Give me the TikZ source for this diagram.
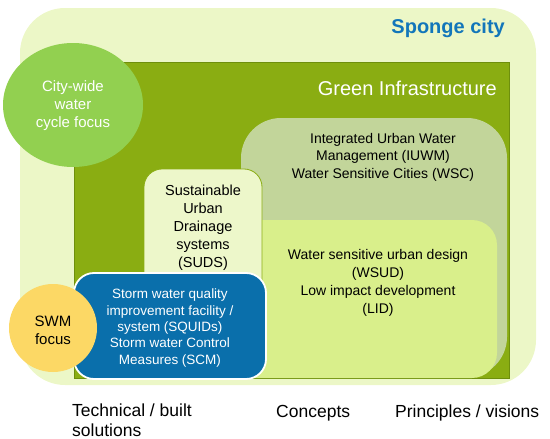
\documentclass[tikz,border=0pt]{standalone}
\usepackage{fontspec}
\setmainfont{Liberation Sans}
\definecolor{spongebg}{HTML}{ECF7C7}
\definecolor{gireen}{HTML}{8AAD12}
\definecolor{giborder}{HTML}{6E8F0C}
\definecolor{citycol}{HTML}{92D050}
\definecolor{iuwmcol}{HTML}{C2D59A}
\definecolor{wsudcol}{HTML}{D9EF8B}
\definecolor{sudscol}{HTML}{EDF7CA}
\definecolor{bluecol}{HTML}{0A6FAB}
\definecolor{swmcol}{HTML}{FCD865}
\definecolor{spongetxt}{HTML}{1276BA}
\tikzset{
  lbl/.style={align=center, inner sep=0pt, font=\fontsize{14}{17.5}\selectfont},
  botlbl/.style={inner sep=0pt, font=\fontsize{17.5}{20}\selectfont, anchor=base west, align=left},
}
\begin{document}
\begin{tikzpicture}[x=1pt,y=-1pt]
\useasboundingbox (0,0) rectangle (550,439);
% sponge city background
\fill[spongebg, rounded corners=45pt] (20,8) rectangle (536,385);
\node[anchor=base east, inner sep=0pt, text=spongetxt, font=\fontsize{20}{24}\selectfont\bfseries] (sponge) at (505,34) {Sponge city};
% green infrastructure
\filldraw[fill=gireen, draw=giborder, line width=0.8pt] (74,62) rectangle (509,378);
\node[anchor=base east, inner sep=0pt, text=white, font=\fontsize{20}{24}\selectfont] (gi) at (497,95) {Green Infrastructure};
% city-wide circle
\fill[citycol] (73,105) ellipse [x radius=70, y radius=62];
\node[lbl, text=white, font=\fontsize{15}{18}\selectfont] (city) at (73,106) {City-wide\\water\\cycle focus};
% IUWM
\fill[iuwmcol, rounded corners=40pt] (241,118) rectangle (507,377);
\node[lbl] (iuwm) at (383,157) {Integrated Urban Water\\Management (IUWM)\\Water Sensitive Cities (WSC)};
% WSUD (left part hidden under SUDS and the blue box)
\fill[wsudcol, rounded corners=25pt] (200,220) rectangle (497,378);
\node[lbl, font=\fontsize{14}{18}\selectfont] (wsud) at (378,283) {Water sensitive urban design\\(WSUD)\\Low impact development\\(LID)};
% SUDS
\filldraw[fill=sudscol, draw=gireen, line width=0.8pt, rounded corners=18pt] (144,169) rectangle (262,330);
\node[lbl, font=\fontsize{14.5}{18}\selectfont, anchor=north] (suds) at (203,185) {Sustainable\\Urban\\Drainage\\systems\\(SUDS)};
% blue box
\filldraw[fill=bluecol, draw=white, line width=1.8pt, rounded corners=20pt] (74,273) rectangle (266,379);
\node[lbl, text=white, font=\fontsize{13.5}{16.4}\selectfont] (squid) at (170,328) {Storm water quality\\improvement facility /\\system (SQUIDs)\\Storm water Control\\Measures (SCM)};
% SWM circle
\fill[swmcol] (53,328) circle[radius=44];
\node[lbl, font=\fontsize{15}{18}\selectfont] (swm) at (53,330) {SWM\\focus};
% bottom labels
\node[botlbl] (tech) at (72,436) {Technical / built\\solutions};
\node[botlbl] (conc) at (276,417) {Concepts};
\node[botlbl] (prin) at (395,417) {Principles / visions};
\end{tikzpicture}
\end{document}
